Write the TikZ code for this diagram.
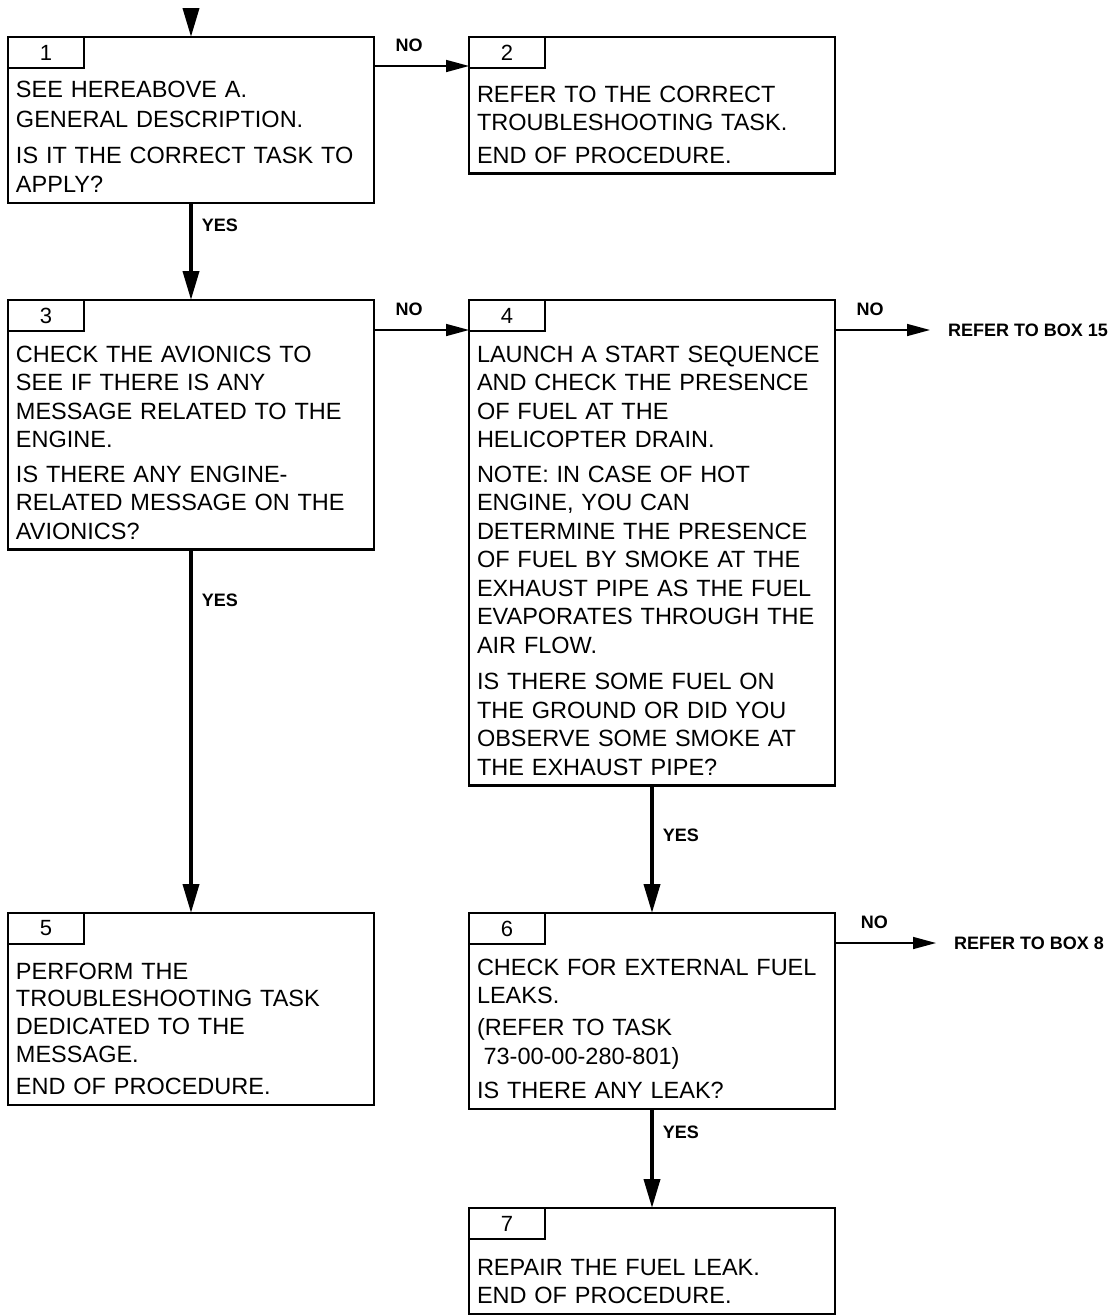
\documentclass[tikz,border=0pt]{standalone}
\usepackage{fontspec}
\setmainfont{Liberation Sans}
\usetikzlibrary{arrows.meta}
\tikzset{
    stepbox/.style={
        draw, line width=2.2pt, outer sep=0pt, anchor=north west,
        text width=350pt, inner xsep=8pt, inner ysep=2pt, align=left,
        font=\fontsize{23.5}{28.5}\selectfont,
        execute at begin node={\rule{0pt}{#1}},
        execute at end node={\strut}
    },
    tabbox/.style={
        draw, line width=2.2pt, outer sep=0pt, anchor=north west,
        minimum width=76pt, minimum height=31pt, inner sep=0pt,
        font=\fontsize{22}{22}\selectfont
    },
    yes arrow/.style={line width=3.8pt, -{Triangle[length=29pt,width=16pt]}},
    no arrow/.style={line width=1.6pt, -{Triangle[length=23pt,width=12pt]}},
    answer/.style={font=\bfseries\fontsize{18}{18}\selectfont, inner sep=0pt},
    refer/.style={answer, anchor=west, inner xsep=18pt},
}

\begin{document}
\begin{tikzpicture}[x=1pt, y=-1pt]
\useasboundingbox (0,0) rectangle (1115,1315);

\node[stepbox=58pt] (b1) at (8,37) {SEE HEREABOVE A.\\[1.5pt] GENERAL DESCRIPTION.\\[7.5pt] IS IT THE CORRECT TASK TO\\[1pt] APPLY?};
\node[stepbox=63pt] (b2) at (469,37) {REFER TO THE CORRECT\\ TROUBLESHOOTING TASK.\\[4pt] END OF PROCEDURE.};
\node[stepbox=60pt] (b3) at (8,300) {CHECK THE AVIONICS TO\\ SEE IF THERE IS ANY\\ MESSAGE RELATED TO THE\\ ENGINE.\\[6pt] IS THERE ANY ENGINE-\\ RELATED MESSAGE ON THE\\ AVIONICS?};
\node[stepbox=60pt] (b4) at (469,300) {LAUNCH A START SEQUENCE\\ AND CHECK THE PRESENCE\\ OF FUEL AT THE\\ HELICOPTER DRAIN.\\[6pt] NOTE: IN CASE OF HOT\\ ENGINE, YOU CAN\\ DETERMINE THE PRESENCE\\ OF FUEL BY SMOKE AT THE\\ EXHAUST PIPE AS THE FUEL\\ EVAPORATES THROUGH THE\\ AIR FLOW.\\[8pt] IS THERE SOME FUEL ON\\ THE GROUND OR DID YOU\\ OBSERVE SOME SMOKE AT\\ THE EXHAUST PIPE?};
\node[stepbox=64pt] (b5) at (8,913) {PERFORM THE\\[-0.8pt] TROUBLESHOOTING TASK\\[-0.8pt] DEDICATED TO THE\\[-0.8pt] MESSAGE.\\[3.5pt] END OF PROCEDURE.};
\node[stepbox=60pt] (b6) at (469,913) {CHECK FOR EXTERNAL FUEL\\ LEAKS.\\[3.5pt] (REFER TO TASK\\ \hspace*{.28em}73-00-00-280-801)\\[6pt] IS THERE ANY LEAK?};
\node[stepbox=65pt] (b7) at (469,1208) {REPAIR THE FUEL LEAK.\\ END OF PROCEDURE.};

\foreach \k in {1,...,7}
    \node[tabbox] (n\k) at (b\k.north west) {\k};

\node[refer] (r15) at (930,330) {REFER TO BOX 15};
\node[refer] (r8) at (936,943) {REFER TO BOX 8};

\coordinate (entry) at (191,8);
\draw[yes arrow] (entry) -- (b1.north);

\draw[no arrow] ([yshift=-29pt]b1.north east) -- ([yshift=-29pt]b2.north west) node[answer, above=14pt, pos=0.37] {NO};
\draw[no arrow] ([yshift=-30pt]b3.north east) -- ([yshift=-30pt]b4.north west) node[answer, above=14pt, pos=0.37] {NO};
\draw[no arrow] (b4.east |- r15.west) -- (r15.west) node[answer, above=14pt, pos=0.37] {NO};
\draw[no arrow] (b6.east |- r8.west) -- (r8.west) node[answer, above=14pt, pos=0.39] {NO};

\draw[yes arrow] (b1.south) -- (b3.north) node[answer, right=9pt, pos=0.23] {YES};
\draw[yes arrow] (b3.south) -- (b5.north) node[answer, right=9pt, pos=0.14] {YES};
\draw[yes arrow] (b4.south) -- (b6.north) node[answer, right=9pt, pos=0.39] {YES};
\draw[yes arrow] (b6.south) -- (b7.north) node[answer, right=9pt, pos=0.23] {YES};
\end{tikzpicture}
\end{document}
